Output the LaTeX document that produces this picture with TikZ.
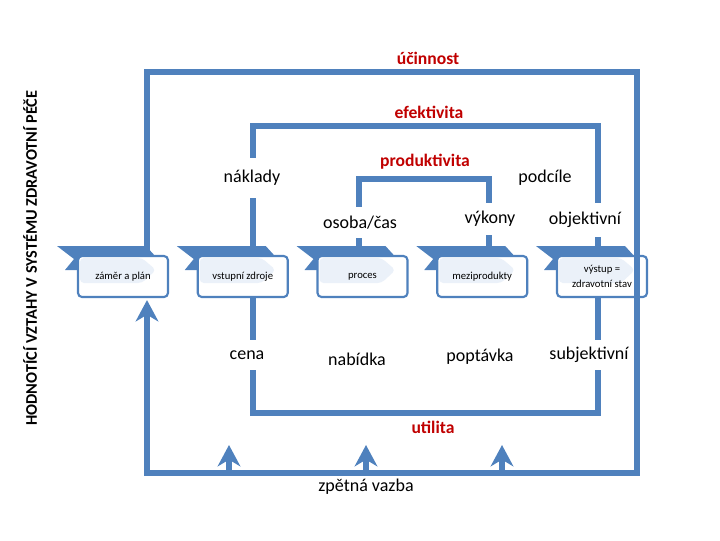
\documentclass[tikz,border=0pt]{standalone}
\usepackage{fontspec}
\setmainfont{Carlito}
\usetikzlibrary{arrows.meta,calc}
\definecolor{lblue}{HTML}{4F81BD}
\definecolor{lred}{HTML}{C00000}
\definecolor{faint}{HTML}{EBF1F9}
\begin{document}
\begin{tikzpicture}[x=0.75pt,y=-0.75pt,
  conn/.style={draw=lblue,line width=4.1pt,line join=miter},
  lab/.style={font=\fontsize{13.5}{15}\selectfont,inner sep=0pt},
  redlab/.style={font=\bfseries\fontsize{13.2}{15}\selectfont,text=lred,inner sep=0pt},
  fbarrow/.style={conn,-{Stealth[length=16pt,width=17pt,inset=5pt]}},
  chev/.style={fill=lblue},
  whitebox/.style={draw=lblue,line width=1.6pt,fill=white,rounded corners=3pt,
    minimum width=67.5pt,minimum height=30.75pt,inner sep=1pt,align=center,
    font=\fontsize{8}{11.5}\selectfont,
    path picture={\fill[faint] ([shift={(2,2)}]path picture bounding box.north west)
      -- ++(62,0) -- ++(14,12) -- ++(-14,13) -- ++(-62,0) -- cycle;}}
]
\useasboundingbox (0,0) rectangle (720,540);

% corner coordinates
\coordinate (oTL) at (147,72);
\coordinate (oTR) at (637,72);
\coordinate (oBR) at (637,473);
\coordinate (oBL) at (147,473);
\coordinate (iTL) at (253,126);
\coordinate (iTR) at (598,126);
\coordinate (iBR) at (598,413);
\coordinate (iBL) at (253,413);
\coordinate (pL) at (359,179);
\coordinate (pR) at (489,179);

% labels
\node[redlab] (ucin) at (428,58) {účinnost};
\node[redlab] (efek) at (429,112) {efektivita};
\node[redlab] (prod) at (425,162) {produktivita};
\node[redlab] (util) at (433,427) {utilita};
\node[lab,minimum height=30pt] (nak) at (252,178) {náklady};
\node[lab] (podc) at (545,178) {podcíle};
\node[lab,minimum height=23pt] (osoba) at (360,222.5) {osoba/čas};
\node[lab,minimum height=24pt] (vyk) at (490,219) {výkony};
\node[lab,minimum height=25.5pt] (obj) at (585,220) {objektivní};
\node[lab,minimum height=22.5pt] (cena) at (247,355) {cena};
\node[lab] (nab) at (357,359) {nabídka};
\node[lab] (popt) at (480,357) {poptávka};
\node[lab,minimum height=22.5pt] (subj) at (589,355) {subjektivní};
\node[lab] (zpet) at (366,487) {zpětná vazba};
\node[rotate=90,inner sep=0pt,font=\bfseries\fontsize{12.2}{14}\selectfont] (title) at (30,258)
  {HODNOTÍCÍ VZTAHY V SYSTÉMU ZDRAVOTNÍ PÉČE};

% chevrons
\foreach \i in {0,...,4}{
  \pgfmathsetmacro\L{78+119.75*\i}
  \fill[chev] (\L-21,246) -- (\L+68,246) -- (\L+88,268) -- (\L+68,290) -- (\L,290)
    -- (\L,270) -- (\L-13,270) -- (\L-4,259) -- cycle;
}

% outer loop right side (behind the last box)
\draw[conn] (oBR) -- (oTR);

% boxes
\node[whitebox] (b1) at (123,276.5) {záměr a plán};
\node[whitebox] (b2) at (242.75,276.5) {vstupní zdroje};
\node[whitebox] (b3) at (362.5,276.5) {proces};
\node[whitebox] (b4) at (482.25,276.5) {meziprodukty};
\node[whitebox] (b5) at (602,276.5) {výstup =\\zdravotní stav};

% outer loop with feedback arrow into the first box
\draw[conn,-{Stealth[length=16pt,width=17pt,inset=5pt]}]
  (b1.north -| oTL) -- (oTL) -- (oTR) -- (oBR) -- (oBL) -- ([yshift=-1.5pt]b1.south -| oBL);

% inner loop
\draw[conn] (nak.north -| iTL) -- (iTL) -- (iTR) -- (obj.north -| iTR);
\draw[conn] (nak.south -| iTL) -- (b2.north -| iTL);
\draw[conn] (obj.south -| iTR) -- (b5.north -| iTR);
\draw[conn] (b2.south -| iBL) -- (cena.north -| iBL);
\draw[conn] (cena.south -| iBL) -- (iBL) -- (iBR) -- (subj.south -| iBR);
\draw[conn] (subj.north -| iBR) -- (b5.south -| iBR);

% productivity bracket
\draw[conn] (osoba.north -| pL) -- (pL) -- (pR) -- (vyk.north -| pR);
\draw[conn] (osoba.south -| pL) -- (b3.north -| pL);
\draw[conn] (vyk.south -| pR) -- (b4.north -| pR);

% feedback arrows
\coordinate (f1s) at (229,473); \coordinate (f1t) at (229,445);
\coordinate (f2s) at (366,473); \coordinate (f2t) at (366,445);
\coordinate (f3s) at (502,473); \coordinate (f3t) at (502,445);
\draw[fbarrow] (f1s) -- (f1t);
\draw[fbarrow] (f2s) -- (f2t);
\draw[fbarrow] (f3s) -- (f3t);
\end{tikzpicture}
\end{document}
